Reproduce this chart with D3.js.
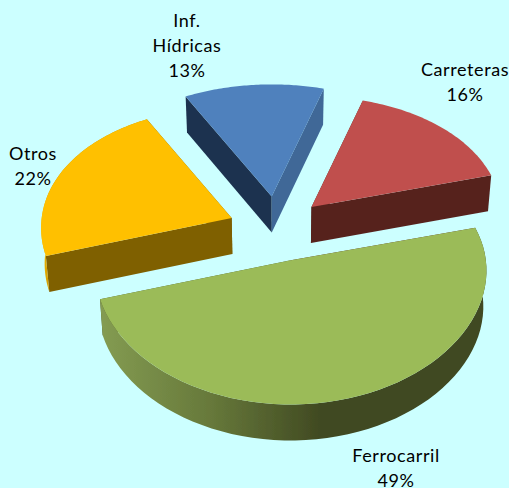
<!DOCTYPE html>
<html><head><meta charset="utf-8">
<script src="https://cdn.jsdelivr.net/npm/d3@7"></script>
<style>html,body{margin:0;padding:0;background:#ccffff;overflow:hidden}svg{display:block}</style>
</head><body><svg id="c" width="509" height="488"></svg>
<script>
const categories = ["Carreteras","Ferrocarril","Otros","Inf. Hídricas"];
const values = [16.1,49.44,21.78,12.68];
const topColors = ["#c0504d","#9bbb59","#ffc000","#4f81bd"];
const startWallColors = ["#57231f","#57231f","#7f6000","#1f3350"];
const endWallColors = ["#57231f","#4a5427","#7f6000","#3f6797"];
const labelLines = [["Carreteras"],["Ferrocarril"],["Otros"],["Inf.","Hídricas"]];
const labelAnchors = [[465,76],[396,461.5],[33,160],[187,27]];
const drawOrder = [3,0,2,1];
const radii = [190,195,190,193];
const explosions = [48.5,42.5,48.5,48.5];
const nudgeX = [0,2.5,0,0];

const W=509,H=488, cx=276.6, cy=231, R0=193, kE=.715, k=.66, ax=.08, ay=.12, depth=36, shrink=.985;
const svg=d3.select("#c");
svg.append("rect").attr("width",W).attr("height",H).attr("fill","#ccffff");
const defs=svg.append("defs");
const grad=defs.append("linearGradient").attr("id","fw").attr("gradientUnits","userSpaceOnUse")
  .attr("x1",100).attr("x2",325).attr("y1",0).attr("y2",0);
grad.append("stop").attr("offset",0).attr("stop-color","#849c52");
grad.append("stop").attr("offset",.5).attr("stop-color","#66783a");
grad.append("stop").attr("offset",1).attr("stop-color","#3f4821");
const grad2=defs.append("linearGradient").attr("id","ow").attr("gradientUnits","userSpaceOnUse")
  .attr("x1",40).attr("x2",50).attr("y1",0).attr("y2",0);
grad2.append("stop").attr("offset",0).attr("stop-color","#ffc000");
grad2.append("stop").attr("offset",1).attr("stop-color","#c99700");
defs.append("filter").attr("id","soft").append("feGaussianBlur").attr("stdDeviation",.45);

const arcs=d3.pie().sort(null).startAngle(17*Math.PI/180).endAngle(377*Math.PI/180)(values);
const line=d3.line().x(d=>d[0]).y(d=>d[1]);
const layer=svg.append("g").attr("filter","url(#soft)");

arcs.forEach((d,i)=>{d.mid=(d.startAngle+d.endAngle)/2; d.R=radii[i]; d.e=explosions[i]; d.n=nudgeX[i];});
function proj(d,a,r,low){
  const u=r*Math.sin(a), v=r*Math.cos(a);
  let x=u*(1-ax*v/R0), y=-v*k*(1-ay*v/R0);
  x+=d.e*Math.sin(d.mid)+d.n; y-=d.e*kE*Math.cos(d.mid);
  if(low){x*=shrink; y+=depth;}
  return [cx+x,cy+y];
}
function arcPts(d,a0,a1,low){
  return d3.range(0,61).map(i=>proj(d,a0+(a1-a0)*i/60,d.R,low));
}
drawOrder.forEach(i=>{
  const d=arcs[i], g=layer.append("g");
  const wall=(a,c)=>g.append("path").attr("d",line([proj(d,a,0),proj(d,a,d.R),proj(d,a,d.R,true),proj(d,a,0,true)])+"Z").attr("fill",c);
  wall(d.startAngle,startWallColors[i]);
  wall(d.endAngle,endWallColors[i]);
  const outer=arcPts(d,d.startAngle,d.endAngle).concat(arcPts(d,d.endAngle,d.startAngle,true));
  const fill=i===1?"url(#fw)":i===2?"url(#ow)":endWallColors[i];
  if(i===1||i===2) g.append("path").attr("d",line(outer)+"Z").attr("fill",fill);
  g.append("path").attr("d",line([proj(d,0,0)].concat(arcPts(d,d.startAngle,d.endAngle)))+"Z").attr("fill",topColors[i]);
});
const fmt=d3.format(".0f");
labelLines.forEach((lines,i)=>{
  const t=svg.append("text").attr("text-anchor","middle").attr("font-family","Lato").attr("font-size",18).attr("letter-spacing",.6).attr("fill","#000");
  lines.concat(fmt(values[i])+"%").forEach((s,j)=>t.append("tspan").attr("x",labelAnchors[i][0]).attr("y",labelAnchors[i][1]+j*25).text(s));
});
</script></body></html>
